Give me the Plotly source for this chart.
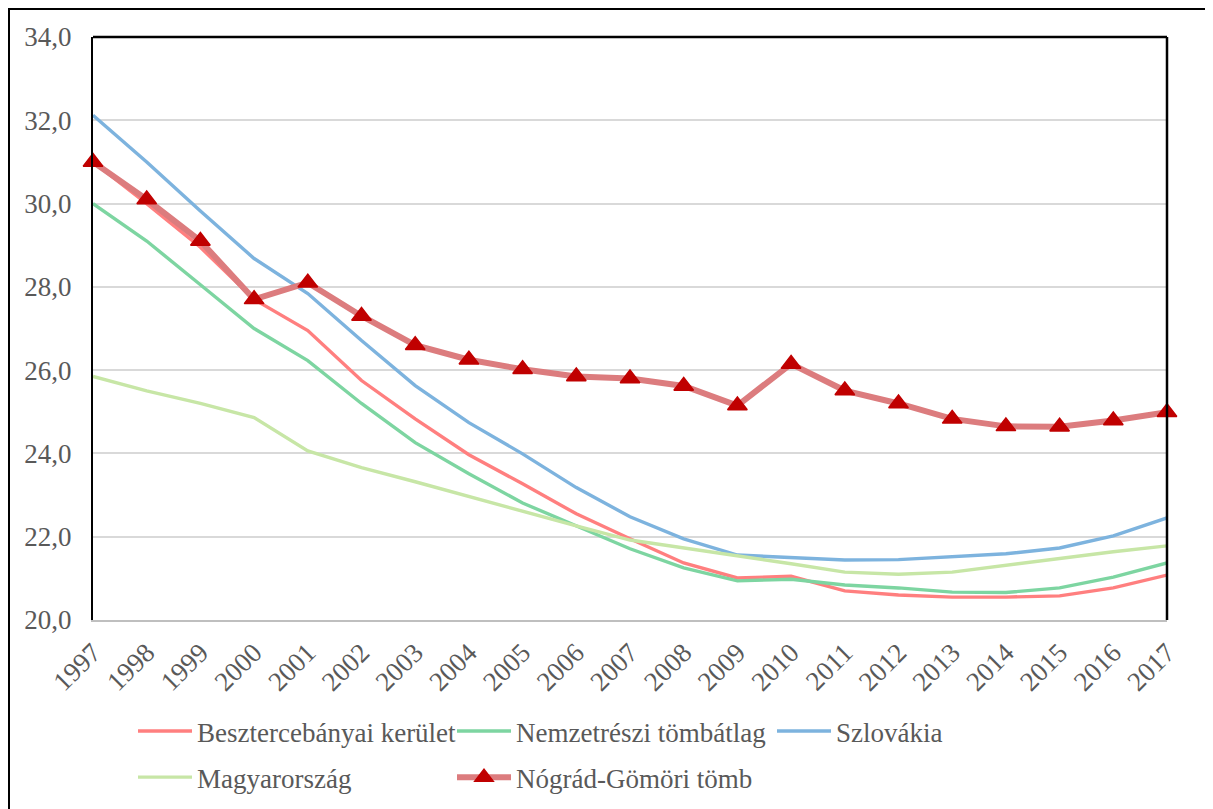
import plotly.graph_objects as go

years = list(range(1997, 2018))

besztercebanyai = [31.0, 30.0, 28.95, 27.7, 26.95, 25.75, 24.83, 23.97, 23.27, 22.55, 21.95,
                   21.37, 21.01, 21.05, 20.70, 20.60, 20.55, 20.55, 20.58, 20.77, 21.08]
nemzetreszi = [30.0, 29.1, 28.05, 27.0, 26.23, 25.2, 24.26, 23.51, 22.81, 22.26, 21.71,
               21.25, 20.94, 20.98, 20.84, 20.77, 20.67, 20.66, 20.77, 21.03, 21.37]
szlovakia = [32.12, 31.0, 29.82, 28.68, 27.84, 26.71, 25.63, 24.74, 23.99, 23.18, 22.48,
             21.95, 21.56, 21.49, 21.44, 21.45, 21.51, 21.59, 21.73, 22.02, 22.45]
magyarorszag = [25.85, 25.5, 25.2, 24.86, 24.06, 23.66, 23.32, 22.96, 22.62, 22.26, 21.92,
                21.73, 21.56, 21.35, 21.15, 21.1, 21.15, 21.32, 21.49, 21.64, 21.78]
nograd_gomori = [31.0, 30.1, 29.1, 27.7, 28.1, 27.3, 26.6, 26.25, 26.02, 25.85, 25.8,
                 25.62, 25.15, 26.15, 25.51, 25.2, 24.83, 24.65, 24.64, 24.79, 24.99]

y_ticks = [20, 22, 24, 26, 28, 30, 32, 34]

FONT = "Liberation Serif"
TXT = "#595959"
FS = 27

fig = go.Figure()

def line_trace(name, vals, color, legend, group):
    return go.Scatter(x=years, y=vals, name=name, mode="lines",
                      line=dict(color=color, width=3.4),
                      legend=legend, legendgroup=group)

fig.add_trace(line_trace("Besztercebányai kerület", besztercebanyai, "#FF7F7F", "legend", "a"))
fig.add_trace(line_trace("Nemzetrészi tömbátlag", nemzetreszi, "#7DD5A1", "legend2", "b"))
fig.add_trace(line_trace("Szlovákia", szlovakia, "#7DB3DE", "legend3", "c"))
fig.add_trace(line_trace("Magyarország", magyarorszag, "#C7E6A6", "legend", "d"))
fig.add_trace(go.Scatter(x=years, y=nograd_gomori, name="Nógrád-Gömöri tömb",
                         mode="lines+markers",
                         line=dict(color="#DC7C7E", width=6),
                         marker=dict(symbol="triangle-up", size=17, color="#C00000",
                                     line=dict(color="#C00000", width=1.5)),
                         cliponaxis=False, legend="legend2", legendgroup="e"))

# page body adds an 8px offset; figure sized to fit the window
OFF = 8
W, H = 1213 - OFF, 809 - OFF
# plot area in screenshot coordinates
L, R, T, B = 93, 1167, 37, 620

def px(xs):
    return (xs - L) / (R - L)

def py(ys):
    return (B - ys) / (B - T)

def cy(ys):
    # container-relative y (0 bottom, 1 top)
    return (H - (ys - OFF)) / H

legend_common = dict(orientation="v", yanchor="top", xanchor="left", yref="container",
                     font=dict(family=FONT, size=FS, color=TXT),
                     bgcolor="rgba(0,0,0,0)", tracegroupgap=8, itemwidth=54)

fig.update_layout(
    width=W, height=H,
    margin=dict(l=L - OFF, r=(W + OFF) - R, t=T - OFF, b=(H + OFF) - B, pad=0,
                autoexpand=False),
    paper_bgcolor="white", plot_bgcolor="white",
    separators=", ",
    font=dict(family=FONT, size=FS, color=TXT),
    showlegend=True,
    legend=dict(x=px(133), y=cy(707), **legend_common),
    legend2=dict(x=px(452), y=cy(707), **legend_common),
    legend3=dict(x=px(772), y=cy(707), **legend_common),
    xaxis=dict(range=[1997, 2017], tickvals=years, ticktext=[str(y) for y in years],
               tickangle=-45, showgrid=False, showline=True, linecolor="#BFBFBF",
               linewidth=2, ticks="", zeroline=False,
               tickfont=dict(family=FONT, size=FS, color=TXT), ticklabelstandoff=4),
    yaxis=dict(range=[20, 34], tickvals=y_ticks, tickformat=".1f",
               showgrid=True, gridcolor="#D9D9D9", gridwidth=1.5,
               showline=True, linecolor="black", linewidth=2, ticks="",
               zeroline=False, tickfont=dict(family=FONT, size=FS, color=TXT),
               ticklabelstandoff=14),
)

# plot-area border (top, right)
fig.add_shape(type="line", xref="paper", yref="paper", x0=0, x1=1, y0=1, y1=1,
              line=dict(color="black", width=2.5))
fig.add_shape(type="line", xref="paper", yref="paper", x0=1, x1=1, y0=0, y1=1,
              line=dict(color="black", width=2.5))
# outer chart frame (top and left edges visible, rest runs off the page)
fig.add_shape(type="rect", xref="paper", yref="paper",
              x0=px(OFF + 1), x1=px(1260), y0=py(860), y1=py(OFF + 1),
              line=dict(color="black", width=2), fillcolor="rgba(0,0,0,0)")

fig.write_html("out.html")
